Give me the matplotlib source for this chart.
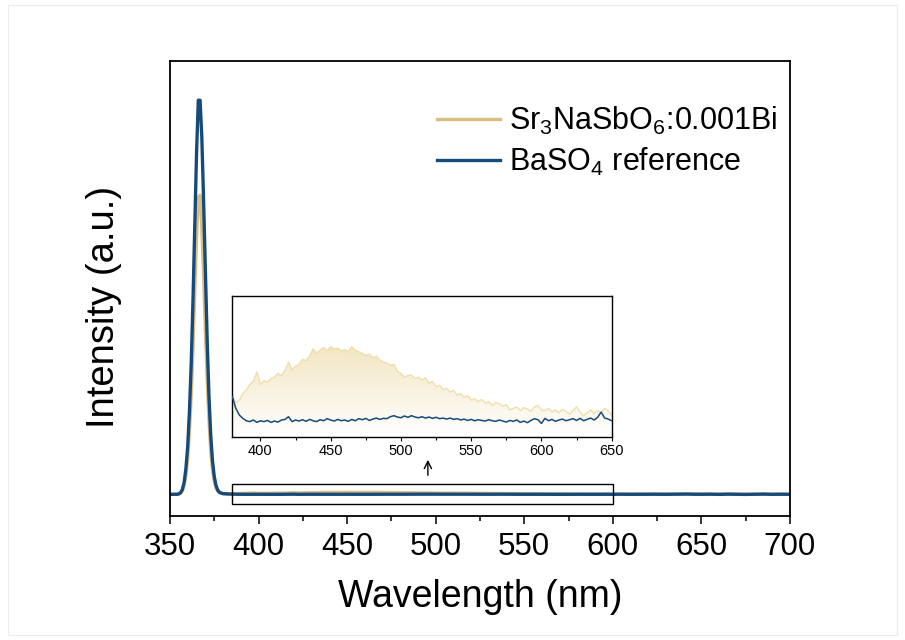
import numpy as np
import matplotlib.pyplot as plt
from matplotlib.patches import Rectangle
from matplotlib.ticker import MultipleLocator

plt.rcParams['font.family'] = ['Liberation Sans', 'DejaVu Sans']
plt.rcParams['mathtext.fontset'] = 'custom'
plt.rcParams['mathtext.rm'] = 'Liberation Sans'
plt.rcParams['mathtext.it'] = 'Liberation Sans:italic'

# excitation peak region (nm), normalised intensity
peak_wl = list(range(350, 380))
peak_bi = [0.0, 0.0, 0.0, 0.0, 0.0, 0.001, 0.003, 0.009, 0.022, 0.048,
           0.09, 0.16, 0.25, 0.37, 0.51, 0.65, 0.75, 0.755, 0.67, 0.55,
           0.41, 0.29, 0.19, 0.11, 0.062, 0.033, 0.016, 0.008, 0.004, 0.003]
peak_baso4 = [0.0, 0.0, 0.0, 0.0, 0.0, 0.001, 0.004, 0.012, 0.03, 0.065,
              0.12, 0.21, 0.33, 0.49, 0.67, 0.86, 0.995, 0.995, 0.90, 0.74,
              0.56, 0.39, 0.25, 0.15, 0.085, 0.045, 0.022, 0.01, 0.005, 0.003]

# weak emission 380-650 nm, 2.5 nm steps (x1e-3)
weak_bi = [1.65, 1.25, 1.40, 1.85, 2.10, 2.45, 2.70, 3.30, 2.45, 2.70,
           2.60, 2.85, 2.95, 3.20, 3.05, 3.40, 3.95, 3.45, 3.70, 3.80,
           4.15, 4.05, 4.35, 4.85, 4.55, 4.75, 4.95, 4.70, 5.00, 4.85,
           4.90, 4.70, 4.80, 4.65, 5.00, 4.75, 4.65, 4.55, 4.40, 4.50,
           4.25, 4.35, 4.10, 3.95, 3.90, 3.75, 3.80, 3.35, 3.20, 2.95,
           3.05, 3.10, 2.85, 2.95, 2.75, 2.90, 2.55, 2.65, 2.30, 2.40,
           2.10, 2.20, 1.95, 2.05, 1.75, 1.85, 1.60, 1.70, 1.40, 1.50,
           1.30, 1.45, 1.20, 1.30, 1.05, 1.25, 1.15, 1.00, 1.10, 0.75,
           0.85, 0.95, 0.70, 0.90, 0.80, 0.65, 0.95, 1.05, 0.75, 0.70,
           0.85, 0.60, 0.75, 0.55, 0.80, 0.65, 0.45, 0.70, 0.95, 0.60,
           0.35, 0.55, 0.75, 0.50, 0.70, 0.55, 0.85, 0.70, 0.40]
weak_baso4 = [1.64, 0.85, 0.40, 0.18, 0.02, -0.04, 0.07, -0.09, 0.02, -0.04,
              0.04, -0.09, 0.00, -0.07, 0.07, 0.11, 0.29, -0.04, 0.07, 0.00,
              0.09, -0.02, 0.11, 0.02, -0.04, 0.09, 0.02, 0.16, 0.07, 0.00,
              0.11, 0.02, 0.07, -0.02, 0.11, 0.02, 0.16, 0.09, 0.18, 0.04,
              0.13, 0.20, 0.11, 0.18, 0.16, 0.29, 0.36, 0.27, 0.22, 0.34,
              0.25, 0.36, 0.27, 0.22, 0.29, 0.20, 0.27, 0.18, 0.25, 0.16,
              0.20, 0.13, 0.20, 0.11, 0.16, 0.07, 0.13, 0.04, 0.11, 0.02,
              0.09, 0.04, 0.00, 0.09, 0.02, -0.02, 0.07, 0.00, -0.07, 0.04,
              -0.02, 0.07, -0.09, 0.00, -0.11, 0.04, 0.16, 0.09, -0.16, 0.18,
              0.02, 0.11, -0.02, 0.07, 0.13, 0.02, 0.09, 0.16, 0.04, 0.18,
              0.02, 0.11, 0.20, 0.07, 0.25, 0.60, 0.20, 0.13, 0.02]
weak_wl = np.linspace(380, 650, len(weak_bi))

# tail 655-700 nm (x1e-3)
tail_wl = list(range(655, 701, 5))
tail_bi = [0.5, 0.3, 0.6, 0.4, 0.2, 0.5, 0.6, 0.3, 0.4, 0.3]
tail_baso4 = [0.3, -0.2, 0.4, 0.1, -0.3, 0.2, 0.5, -0.1, 0.2, 0.0]

gold = '#d8bf7f'
gold_light = '#f0dfab'
blue = '#174a7c'

wl = np.concatenate([peak_wl, weak_wl, tail_wl])
bi = np.concatenate([peak_bi, np.array(weak_bi) * 1e-3, np.array(tail_bi) * 1e-3])
baso4 = np.concatenate([peak_baso4, np.array(weak_baso4) * 1e-3, np.array(tail_baso4) * 1e-3])

fig = plt.figure(figsize=(9.05, 6.4), dpi=100)
fig.patches.append(Rectangle((0.009, 0.008), 0.982, 0.984, transform=fig.transFigure,
                             fill=False, ec='#ececec', lw=0.8))

ax = fig.add_axes([0.1878, 0.193, 0.6851, 0.711])
ax.plot(wl, bi, color=gold, lw=2.4, label=r'Sr$_\mathrm{3}$NaSbO$_\mathrm{6}$:0.001Bi')
ax.plot(wl, baso4, color=blue, lw=2.4, label=r'BaSO$_\mathrm{4}$ reference')
ax.set_xlim(350, 700)
ax.set_ylim(-0.056, 1.093)
ax.xaxis.set_major_locator(MultipleLocator(50))
ax.xaxis.set_minor_locator(MultipleLocator(25))
ax.tick_params(axis='x', which='major', direction='out', length=6, width=1.1,
               labelsize=22.5, pad=5)
ax.tick_params(axis='x', which='minor', direction='out', length=3.5, width=1.1)
ax.set_yticks([])
for s in ax.spines.values():
    s.set_linewidth(1.3)
ax.set_xlabel('Wavelength (nm)', fontsize=27)
ax.set_ylabel('Intensity (a.u.)', fontsize=27.5)
ax.xaxis.set_label_coords(0.5, -0.138)
ax.yaxis.set_label_coords(-0.077, 0.46)

# zoom box and arrow
ax.add_patch(Rectangle((385, -0.0235), 215, 0.0505, fill=False, ec='black', lw=1.0, zorder=5))
ax.annotate('', xy=(495.6, 0.094), xytext=(495.6, 0.041),
            arrowprops=dict(arrowstyle='->', lw=1.0, color='black', mutation_scale=13))

leg = ax.legend(loc='upper left', bbox_to_anchor=(0.4306, 0.905), frameon=False,
                fontsize=22, handlelength=2.05, handletextpad=0.3,
                labelspacing=0.3, borderpad=0, borderaxespad=0)

# inset
axi = fig.add_axes([0.2567, 0.3177, 0.4192, 0.2203])
ylo, yhi = -1.05, 8.42
axi.set_xlim(380, 650)
axi.set_ylim(ylo, yhi)
poly = axi.fill_between(weak_wl, weak_bi, ylo, color='none', lw=0)
grad = np.zeros((100, 1, 4))
grad[:, 0, :3] = np.array([0.91, 0.82, 0.57])
grad[:, 0, 3] = np.linspace(0.55, 0.0, 100)
img = axi.imshow(grad, extent=[380, 650, ylo, 5.0], aspect='auto', origin='upper',
                 interpolation='bilinear', zorder=1)
img.set_clip_path(poly.get_paths()[0], transform=axi.transData)
axi.plot(weak_wl, weak_bi, color=gold_light, lw=1.0, zorder=2)
axi.plot(weak_wl, weak_baso4, color=blue, lw=1.1, zorder=3)
axi.xaxis.set_major_locator(MultipleLocator(50))
axi.xaxis.set_minor_locator(MultipleLocator(25))
axi.tick_params(axis='x', which='major', direction='out', length=3, width=0.8,
                labelsize=10.5, pad=2)
axi.tick_params(axis='x', which='minor', direction='out', length=2, width=0.8)
axi.set_yticks([])
for s in axi.spines.values():
    s.set_linewidth(1.0)

plt.savefig('out.png', dpi=100)
